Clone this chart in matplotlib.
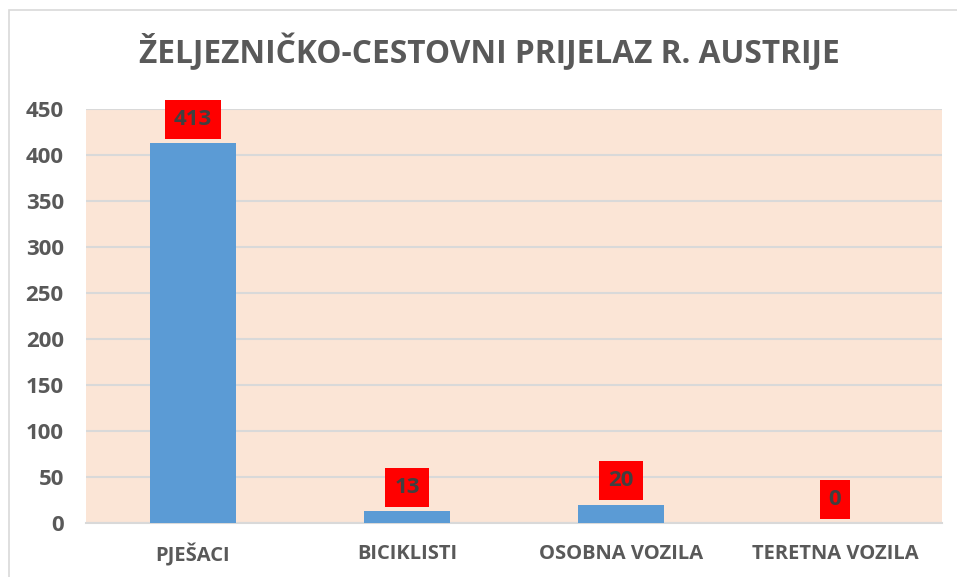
import matplotlib.pyplot as plt
from matplotlib.patches import Rectangle

categories = ['PJEŠACI', 'BICIKLISTI', 'OSOBNA VOZILA', 'TERETNA VOZILA']
values = [413, 13, 20, 0]
yticks = [0, 50, 100, 150, 200, 250, 300, 350, 400, 450]
title = 'ŽELJEZNIČKO-CESTOVNI PRIJELAZ R. AUSTRIJE'

plt.rcParams['font.family'] = ['Open Sans', 'DejaVu Sans']
text_gray = '#595959'

fig = plt.figure(figsize=(9.57, 5.77), dpi=100)
# outer chart border
fig.patches.append(Rectangle((9 / 957, -0.05), 1.2, 1 - 10 / 577 + 0.05,
                             transform=fig.transFigure, fill=False,
                             edgecolor='#D9D9D9', linewidth=1.2))

ax = fig.add_axes([86 / 957, 1 - 523 / 577, (942 - 86) / 957, (523 - 109) / 577])
ax.set_facecolor('#FBE5D6')
x = range(len(categories))
ax.bar(x, values, width=0.40, color='#5B9BD5', zorder=3)

ax.set_xlim(-0.5, len(categories) - 0.5)
ax.set_ylim(0, 450)
ax.set_yticks(yticks)
ax.set_yticklabels([str(t) for t in yticks])
ax.set_xticks(list(x))
ax.set_xticklabels(categories)
ax.grid(axis='y', color='#D9D9D9', linewidth=1.5, zorder=1)
ax.tick_params(length=0, labelcolor=text_gray)
ax.tick_params(axis='y', labelsize=16, pad=16)
ax.tick_params(axis='x', labelsize=14.5, pad=15)
for lab in ax.get_xticklabels() + ax.get_yticklabels():
    lab.set_fontweight('bold')
for s in ['top', 'right', 'left']:
    ax.spines[s].set_visible(False)
ax.spines['bottom'].set_color('#D9D9D9')
ax.spines['bottom'].set_linewidth(1.5)

for i, v in enumerate(values):
    ax.annotate(str(v), (i, v), xytext=(0, 19), textcoords='offset points',
                ha='center', va='center_baseline', fontsize=16, fontweight='bold',
                color='#404040', zorder=5,
                bbox=dict(boxstyle='square,pad=0.4', facecolor='#FF0000', edgecolor='none'))

fig.text(489 / 957, 1 - 52 / 577, title, ha='center', va='center',
         fontsize=22.8, fontweight='bold', color=text_gray)

fig.savefig('out.png', dpi=100)
